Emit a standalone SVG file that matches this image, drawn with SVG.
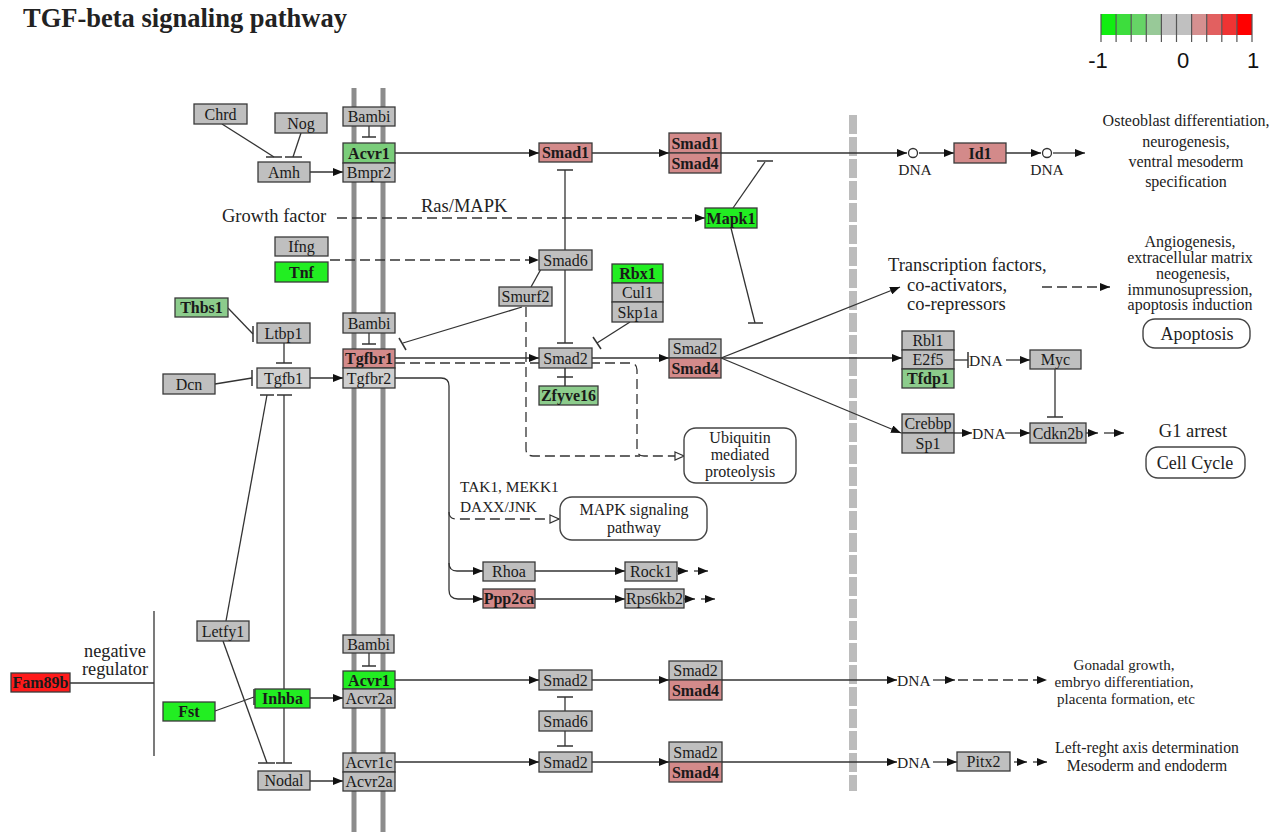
<svg xmlns="http://www.w3.org/2000/svg" width="1271" height="832" viewBox="0 0 1271 832">
<defs>
<style>
.nd rect{stroke:#3a3a3a;stroke-width:1.3}
.nd text{font-family:"Liberation Serif",serif;font-size:16px;text-anchor:middle;fill:#1a1a1a}
.nd text.b{font-weight:bold}
.gy{fill:#bfbfbf}
.lg{fill:#cfcfcf}
.g1{fill:#22ee22}
.g2{fill:#7acd7a}
.g3{fill:#8ccc8c}
.pk{fill:#d38a8a}
.rd{fill:#ff1a1a}
.ln{fill:none;stroke:#333;stroke-width:1.3}
.ar{marker-end:url(#ah)}
.oa{marker-end:url(#oh)}
.ds{stroke-dasharray:10 5}
.tb{stroke:#333;stroke-width:1.5}
.lbl{font-family:"Liberation Serif",serif;fill:#222}
.mid{text-anchor:middle}
.mem{stroke:#8c8c8c;stroke-width:5}
.rb rect{fill:#fff;stroke:#444;stroke-width:1.4}
.rb text{font-family:"Liberation Serif",serif;font-size:18px;text-anchor:middle;fill:#222}
.rb text.s{font-size:16px}
</style>
<marker id="ah" markerWidth="10" markerHeight="8" refX="10" refY="4" orient="auto" markerUnits="userSpaceOnUse"><path d="M0,0L10,4L0,8z" fill="#111"/></marker>
<marker id="oh" markerWidth="11" markerHeight="10" refX="10" refY="5" orient="auto" markerUnits="userSpaceOnUse"><path d="M1,1L10,5L1,9z" fill="#fff" stroke="#333" stroke-width="1.2"/></marker>
</defs>
<rect width="1271" height="832" fill="#fff"/>

<!-- title -->
<text x="23" y="27" class="lbl" font-size="26.5" font-weight="bold" fill="#111">TGF-beta signaling pathway</text>

<!-- colour scale -->
<g id="legend">
<rect x="1101" y="14" width="15.1" height="21" fill="#11ee11"/>
<rect x="1116.1" y="14" width="15.1" height="21" fill="#3ddd3d"/>
<rect x="1131.2" y="14" width="15.1" height="21" fill="#66d466"/>
<rect x="1146.3" y="14" width="15.1" height="21" fill="#98c998"/>
<rect x="1161.4" y="14" width="15.1" height="21" fill="#c0c0c0"/>
<rect x="1176.5" y="14" width="15.1" height="21" fill="#c0c0c0"/>
<rect x="1191.6" y="14" width="15.1" height="21" fill="#d59090"/>
<rect x="1206.7" y="14" width="15.1" height="21" fill="#e26060"/>
<rect x="1221.8" y="14" width="15.1" height="21" fill="#ef3333"/>
<rect x="1236.9" y="14" width="15.1" height="21" fill="#ff0000"/>
<path d="M1101,14V42M1116.1,14V42M1131.2,14V42M1146.3,14V42M1161.4,14V42M1176.5,14V42M1191.6,14V42M1206.7,14V42M1221.8,14V42M1236.9,14V42M1252,14V42" stroke="#555" stroke-width="1.2"/>
<text x="1098" y="68" font-family="Liberation Sans,sans-serif" font-size="22" text-anchor="middle" fill="#111">-1</text>
<text x="1183" y="68" font-family="Liberation Sans,sans-serif" font-size="22" text-anchor="middle" fill="#111">0</text>
<text x="1253" y="68" font-family="Liberation Sans,sans-serif" font-size="22" text-anchor="middle" fill="#111">1</text>
</g>

<!-- cell membrane and nuclear envelope -->
<g id="membranes">
<line x1="354" y1="88" x2="354" y2="832" class="mem"/>
<line x1="383" y1="88" x2="383" y2="832" class="mem"/>
<line x1="853" y1="115" x2="853" y2="791" stroke="#bcbcbc" stroke-width="8" stroke-dasharray="19 3"/>
</g>

<!-- free labels -->
<g id="labels" class="lbl">
<text x="222" y="222" font-size="18.5">Growth factor</text>
<text x="421" y="212" font-size="18.5">Ras/MAPK</text>
<text x="115" y="657" font-size="18.3" class="mid">negative</text>
<text x="115" y="675" font-size="18.3" class="mid">regulator</text>
<text x="460" y="492" font-size="15.4">TAK1, MEKK1</text>
<text x="460" y="512" font-size="15.4">DAXX/JNK</text>
<text x="915" y="175" font-size="15.5" class="mid">DNA</text>
<text x="1047" y="175" font-size="15.5" class="mid">DNA</text>
<text x="969" y="366" font-size="15.5">DNA</text>
<text x="972" y="439" font-size="15.5">DNA</text>
<text x="897" y="686" font-size="15.5">DNA</text>
<text x="897" y="768" font-size="15.5">DNA</text>
<g font-size="16" class="mid">
<text x="1186" y="126">Osteoblast differentiation,</text>
<text x="1186" y="147">neurogenesis,</text>
<text x="1186" y="167">ventral mesoderm</text>
<text x="1186" y="187">specification</text>
</g>
<g font-size="16" class="mid">
<text x="1190" y="247">Angiogenesis,</text>
<text x="1190" y="263">extracellular matrix</text>
<text x="1193" y="279">neogenesis,</text>
<text x="1190" y="295">immunosupression,</text>
<text x="1190" y="310">apoptosis induction</text>
</g>
<text x="888" y="271" font-size="18.5">Transcription factors,</text>
<text x="907" y="291" font-size="18.5">co-activators,</text>
<text x="907" y="310" font-size="18.5">co-repressors</text>
<text x="1193" y="437" font-size="18.5" class="mid">G1 arrest</text>
<g font-size="15" class="mid">
<text x="1124" y="670">Gonadal growth,</text>
<text x="1124" y="687">embryo differentiation,</text>
<text x="1126" y="704">placenta formation, etc</text>
</g>
<g font-size="15.7" class="mid">
<text x="1147" y="753">Left-reght axis determination</text>
<text x="1147" y="771">Mesoderm and endoderm</text>
</g>
</g>

<!-- connectors -->
<g id="connectors">
<!-- ligand regulation, top -->
<path class="ln" d="M222,124L274,157"/><line class="tb" x1="266" y1="157" x2="282" y2="157"/>
<path class="ln" d="M301,133L293,157"/><line class="tb" x1="285" y1="157" x2="302" y2="157"/>
<path class="ln ar" d="M310,172H343"/>
<path class="ln" d="M369,126V137"/><line class="tb" x1="362" y1="137" x2="376" y2="137"/>
<path class="ln ar" d="M395,153H539"/>
<path class="ln ar" d="M592,153H669"/>
<path class="ln ar" d="M721,153H907"/>
<circle cx="913" cy="153" r="4.5" fill="#fff" stroke="#333" stroke-width="1.3"/>
<path class="ln ar" d="M919,153H954"/>
<path class="ln ar" d="M1006,153H1041"/>
<circle cx="1047" cy="153" r="4.5" fill="#fff" stroke="#333" stroke-width="1.3"/>
<path class="ln ar" d="M1053,153H1085"/>
<!-- growth factor / interferon inputs -->
<path class="ln ds ar" d="M337,218H705"/>
<path class="ln ds ar" d="M330,260H539"/>
<!-- Smad6 inhibition -->
<path class="ln" d="M565,250V170"/><line class="tb" x1="557" y1="170" x2="573" y2="170"/>
<path class="ln" d="M565,270V343"/><line class="tb" x1="557" y1="343" x2="573" y2="343"/>
<path class="ln" d="M531,287L541,269"/>
<path class="ln" d="M522,307L403,343"/><line class="tb" x1="399" y1="338" x2="406" y2="350"/>
<path class="ln" d="M630,322L597,343"/><line class="tb" x1="593" y1="337" x2="601" y2="349"/>
<!-- Mapk1 -->
<path class="ln" d="M733,208L765,162"/><line class="tb" x1="757" y1="161" x2="773" y2="161"/>
<path class="ln" d="M731,228L755,323"/><line class="tb" x1="748" y1="323" x2="763" y2="323"/>
<!-- Tgfb1 module -->
<path class="ln" d="M228,308L253,334"/><line class="tb" x1="253" y1="326" x2="253" y2="342"/>
<path class="ln" d="M284,343V363"/><line class="tb" x1="276" y1="363" x2="292" y2="363"/>
<path class="ln" d="M215,384L252,378"/><line class="tb" x1="252" y1="370" x2="252" y2="386"/>
<path class="ln ar" d="M310,378H343"/>
<path class="ln" d="M369,333V344"/><line class="tb" x1="362" y1="344" x2="376" y2="344"/>
<path class="ln ar" d="M395,358H539"/>
<path class="ln" d="M226,621L267,395"/><line class="tb" x1="260" y1="395" x2="274" y2="395"/>
<path class="ln" d="M284,689V395"/><line class="tb" x1="277" y1="395" x2="292" y2="395"/>
<!-- ubiquitin routes -->
<path class="ln ds oa" d="M395,363H630Q637,363 637,370V449Q637,456 644,456H684"/>
<path class="ln ds" d="M526,307V449Q526,456 533,456H640"/>
<path class="ln ar" d="M592,358H669"/>
<!-- Tgfbr2 non-Smad branches -->
<path class="ln ar" d="M395,378H441Q449,378 449,386V590Q449,599 458,599H483"/>
<path class="ln ar" d="M449,563Q449,571 457,571H483"/>
<path class="ln ds oa" d="M449,512Q449,519 456,519H559"/>
<path class="ln ar" d="M535,571H625"/>
<path class="ln ar" d="M535,599H625"/>
<path class="ln ar" d="M677,571H688"/><path class="ln ar" d="M694,571H708"/>
<path class="ln ar" d="M684,599H695"/><path class="ln ar" d="M701,599H715"/>
<!-- nuclear targets of Smad2/Smad4 -->
<path class="ln ar" d="M721,358L900,287"/>
<path class="ln ar" d="M721,358H902"/>
<path class="ln ar" d="M721,358L901,433"/>
<path class="ln ds ar" d="M1042,287H1110"/>
<path class="ln" d="M954,360H968"/><line class="tb" x1="968" y1="352" x2="968" y2="368"/>
<path class="ln ar" d="M1006,360H1030"/>
<path class="ln" d="M1055,369V417"/><line class="tb" x1="1047" y1="417" x2="1063" y2="417"/>
<path class="ln ar" d="M954,433H972"/>
<path class="ln ar" d="M1005,433H1030"/>
<path class="ln ar" d="M1086,433H1098"/><path class="ln ar" d="M1104,433H1124"/>
<!-- activin / nodal branch -->
<path class="ln" d="M70,683H154"/>
<path class="ln" d="M154,611V756" stroke-width="1.6"/>
<path class="ln" d="M215,711L254,697"/><line class="tb" x1="254" y1="689" x2="254" y2="705"/>
<path class="ln" d="M223,641L267,763"/><line class="tb" x1="258" y1="763" x2="275" y2="763"/>
<path class="ln" d="M284,708V763"/><line class="tb" x1="276" y1="763" x2="292" y2="763"/>
<path class="ln ar" d="M310,698H343"/>
<path class="ln ar" d="M310,781H343"/>
<path class="ln" d="M369,653V666"/><line class="tb" x1="362" y1="666" x2="376" y2="666"/>
<path class="ln ar" d="M395,680H539"/>
<path class="ln ar" d="M592,680H669"/>
<path class="ln ar" d="M722,680H897"/>
<path class="ln ar" d="M933,680H955"/>
<path class="ln ds ar" d="M958,680H1047"/>
<path class="ln" d="M565,711V697"/><line class="tb" x1="557" y1="697" x2="573" y2="697"/>
<path class="ln" d="M565,731V746"/><line class="tb" x1="557" y1="746" x2="573" y2="746"/>
<path class="ln ar" d="M395,762H539"/>
<path class="ln ar" d="M592,762H669"/>
<path class="ln ar" d="M722,762H897"/>
<path class="ln ar" d="M933,762H957"/>
<path class="ln ar" d="M1014,762H1027"/><path class="ln ar" d="M1033,762H1047"/>
</g>

<!-- rounded pathway maps -->
<g id="ubiquitin" class="rb"><rect x="684" y="428" width="112" height="55" rx="12"/><text class="s" x="740" y="443">Ubiquitin</text><text class="s" x="740" y="460">mediated</text><text class="s" x="740" y="477">proteolysis</text></g>
<g id="mapk" class="rb"><rect x="560" y="497" width="147" height="43" rx="12"/><text class="s" x="634" y="515">MAPK signaling</text><text class="s" x="634" y="533">pathway</text></g>
<g id="apoptosis" class="rb"><rect x="1143" y="319" width="107" height="29" rx="12"/><text x="1197" y="340">Apoptosis</text></g>
<g id="cellcycle" class="rb"><rect x="1146" y="447" width="99" height="31" rx="12"/><text x="1195" y="469">Cell Cycle</text></g>

<!-- gene nodes -->
<g id="Chrd" class="nd"><rect x="194" y="104" width="53" height="20" class="gy"/><text x="220.5" y="119.5">Chrd</text></g>
<g id="Nog" class="nd"><rect x="275" y="113" width="52" height="20" class="gy"/><text x="301" y="128.5">Nog</text></g>
<g id="Amh" class="nd"><rect x="258" y="162" width="52" height="20" class="gy"/><text x="284" y="177.5">Amh</text></g>
<g id="Bambi_a" class="nd"><rect x="343" y="107" width="52" height="19" class="gy"/><text x="369" y="122">Bambi</text></g>
<g id="Acvr1_a" class="nd"><rect x="343" y="143" width="52" height="20" class="g2"/><text x="369" y="158.5" class="b">Acvr1</text></g>
<g id="Bmpr2" class="nd"><rect x="343" y="163" width="52" height="19" class="gy"/><text x="369" y="178">Bmpr2</text></g>
<g id="Ifng" class="nd"><rect x="275" y="237" width="53" height="19" class="gy"/><text x="301.5" y="252">Ifng</text></g>
<g id="Tnf" class="nd"><rect x="275" y="262" width="53" height="20" class="g1"/><text x="301.5" y="277.5" class="b">Tnf</text></g>
<g id="Thbs1" class="nd"><rect x="175" y="298" width="53" height="19" class="g3"/><text x="201.5" y="313" class="b">Thbs1</text></g>
<g id="Ltbp1" class="nd"><rect x="257" y="323" width="53" height="20" class="gy"/><text x="283.5" y="338.5">Ltbp1</text></g>
<g id="Tgfb1" class="nd"><rect x="257" y="368" width="53" height="20" class="lg"/><text x="283.5" y="383.5">Tgfb1</text></g>
<g id="Dcn" class="nd"><rect x="163" y="374" width="52" height="20" class="gy"/><text x="189" y="389.5">Dcn</text></g>
<g id="Bambi_b" class="nd"><rect x="343" y="313" width="52" height="20" class="gy"/><text x="369" y="328.5">Bambi</text></g>
<g id="Tgfbr1" class="nd"><rect x="343" y="349" width="52" height="19" class="pk"/><text x="369" y="364" class="b">Tgfbr1</text></g>
<g id="Tgfbr2" class="nd"><rect x="343" y="368" width="52" height="20" class="lg"/><text x="369" y="383.5">Tgfbr2</text></g>
<g id="Smad1" class="nd"><rect x="539" y="143" width="53" height="19" class="pk"/><text x="565.5" y="158" class="b">Smad1</text></g>
<g id="Smad1_c" class="nd"><rect x="669" y="133" width="52" height="20" class="pk"/><text x="695" y="148.5" class="b">Smad1</text></g>
<g id="Smad4_c" class="nd"><rect x="669" y="153" width="52" height="20" class="pk"/><text x="695" y="168.5" class="b">Smad4</text></g>
<g id="Mapk1" class="nd"><rect x="705" y="208" width="52" height="20" class="g1"/><text x="731" y="223.5" class="b">Mapk1</text></g>
<g id="Smad6_a" class="nd"><rect x="539" y="250" width="53" height="20" class="gy"/><text x="565.5" y="265.5">Smad6</text></g>
<g id="Smurf2" class="nd"><rect x="499" y="287" width="53" height="19" class="gy"/><text x="525.5" y="302">Smurf2</text></g>
<g id="Rbx1" class="nd"><rect x="612" y="264" width="51" height="19" class="g1"/><text x="637.5" y="279" class="b">Rbx1</text></g>
<g id="Cul1" class="nd"><rect x="612" y="283" width="51" height="19" class="gy"/><text x="637.5" y="298">Cul1</text></g>
<g id="Skp1a" class="nd"><rect x="612" y="302" width="51" height="20" class="gy"/><text x="637.5" y="317.5">Skp1a</text></g>
<g id="Smad2_a" class="nd"><rect x="539" y="348" width="53" height="20" class="gy"/><text x="565.5" y="363.5">Smad2</text></g>
<g id="Zfyve16" class="nd"><rect x="539" y="386" width="59" height="19" class="g3"/><text x="568.5" y="401" class="b">Zfyve16</text></g>
<line x1="565" y1="368" x2="565" y2="386" class="tb"/><line x1="557" y1="377" x2="573" y2="377" class="tb"/>
<g id="Smad2_c" class="nd"><rect x="669" y="339" width="52" height="19" class="gy"/><text x="695" y="354">Smad2</text></g>
<g id="Smad4_d" class="nd"><rect x="669" y="358" width="52" height="20" class="pk"/><text x="695" y="373.5" class="b">Smad4</text></g>
<g id="Rhoa" class="nd"><rect x="483" y="562" width="52" height="19" class="gy"/><text x="509" y="577">Rhoa</text></g>
<g id="Rock1" class="nd"><rect x="625" y="562" width="52" height="19" class="gy"/><text x="651" y="577">Rock1</text></g>
<g id="Ppp2ca" class="nd"><rect x="483" y="589" width="52" height="19" class="pk"/><text x="509" y="604" class="b">Ppp2ca</text></g>
<g id="Rps6kb2" class="nd"><rect x="625" y="589" width="59" height="19" class="gy"/><text x="654.5" y="604">Rps6kb2</text></g>
<g id="Id1" class="nd"><rect x="954" y="143" width="52" height="20" class="pk"/><text x="980" y="158.5" class="b">Id1</text></g>
<g id="Rbl1" class="nd"><rect x="902" y="331" width="52" height="19" class="gy"/><text x="928" y="346">Rbl1</text></g>
<g id="E2f5" class="nd"><rect x="902" y="350" width="52" height="19" class="gy"/><text x="928" y="365">E2f5</text></g>
<g id="Tfdp1" class="nd"><rect x="902" y="369" width="52" height="19" class="g3"/><text x="928" y="384" class="b">Tfdp1</text></g>
<g id="Myc" class="nd"><rect x="1030" y="350" width="51" height="19" class="gy"/><text x="1055.5" y="365">Myc</text></g>
<g id="Crebbp" class="nd"><rect x="902" y="414" width="52" height="19" class="gy"/><text x="928" y="429">Crebbp</text></g>
<g id="Sp1" class="nd"><rect x="902" y="433" width="52" height="20" class="gy"/><text x="928" y="448.5">Sp1</text></g>
<g id="Cdkn2b" class="nd"><rect x="1030" y="423" width="56" height="20" class="gy"/><text x="1058" y="438.5">Cdkn2b</text></g>
<g id="Letfy1" class="nd"><rect x="197" y="621" width="52" height="20" class="gy"/><text x="223" y="636.5">Letfy1</text></g>
<g id="Fam89b" class="nd"><rect x="11" y="673" width="59" height="19" class="rd"/><text x="40.5" y="688" class="b">Fam89b</text></g>
<g id="Fst" class="nd"><rect x="163" y="702" width="52" height="19" class="g1"/><text x="189" y="717" class="b">Fst</text></g>
<g id="Inhba" class="nd"><rect x="255" y="689" width="55" height="19" class="g1"/><text x="282.5" y="704" class="b">Inhba</text></g>
<g id="Nodal" class="nd"><rect x="258" y="771" width="52" height="19" class="gy"/><text x="284" y="786">Nodal</text></g>
<g id="Bambi_c" class="nd"><rect x="343" y="635" width="51" height="18" class="gy"/><text x="368.5" y="649.5">Bambi</text></g>
<g id="Acvr1_b" class="nd"><rect x="343" y="671" width="52" height="18" class="g1"/><text x="369" y="685.5" class="b">Acvr1</text></g>
<g id="Acvr2a_a" class="nd"><rect x="343" y="689" width="52" height="19" class="gy"/><text x="369" y="704">Acvr2a</text></g>
<g id="Acvr1c" class="nd"><rect x="343" y="753" width="52" height="19" class="gy"/><text x="369" y="768">Acvr1c</text></g>
<g id="Acvr2a_b" class="nd"><rect x="343" y="772" width="52" height="19" class="gy"/><text x="369" y="787">Acvr2a</text></g>
<g id="Smad2_b" class="nd"><rect x="539" y="670" width="53" height="20" class="gy"/><text x="565.5" y="685.5">Smad2</text></g>
<g id="Smad6_b" class="nd"><rect x="539" y="711" width="53" height="20" class="gy"/><text x="565.5" y="726.5">Smad6</text></g>
<g id="Smad2_d" class="nd"><rect x="539" y="752" width="53" height="20" class="gy"/><text x="565.5" y="767.5">Smad2</text></g>
<g id="Smad2_e" class="nd"><rect x="669" y="661" width="53" height="19" class="gy"/><text x="695.5" y="676">Smad2</text></g>
<g id="Smad4_e" class="nd"><rect x="669" y="680" width="53" height="20" class="pk"/><text x="695.5" y="695.5" class="b">Smad4</text></g>
<g id="Smad2_f" class="nd"><rect x="669" y="742" width="53" height="20" class="gy"/><text x="695.5" y="757.5">Smad2</text></g>
<g id="Smad4_f" class="nd"><rect x="669" y="762" width="53" height="20" class="pk"/><text x="695.5" y="777.5" class="b">Smad4</text></g>
<g id="Pitx2" class="nd"><rect x="957" y="752" width="53" height="19" class="gy"/><text x="983.5" y="767">Pitx2</text></g>
</svg>
